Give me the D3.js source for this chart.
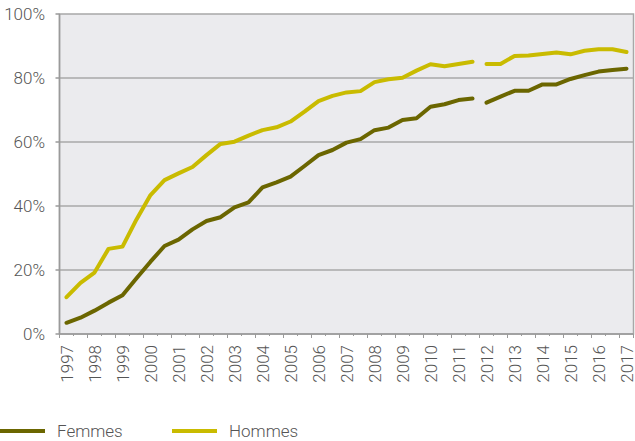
<!DOCTYPE html>
<html>
<head>
<meta charset="utf-8">
<script src="https://cdn.jsdelivr.net/npm/d3@7"></script>
<style>
  body { margin: 0; background: #fff; }
  svg { display: block; font-family: Roboto, "Noto Sans", sans-serif; font-weight: 300; }
</style>
</head>
<body>
<svg id="chart" width="635" height="441"></svg>
<script>
// semestres (une valeur tous les six mois)
var periodes = [1997, 1997.5, 1998, 1998.5, 1999, 1999.5, 2000, 2000.5, 2001, 2001.5,
    2002, 2002.5, 2003, 2003.5, 2004, 2004.5, 2005, 2005.5, 2006, 2006.5,
    2007, 2007.5, 2008, 2008.5, 2009, 2009.5, 2010, 2010.5, 2011, 2011.5,
    2012, 2012.5, 2013, 2013.5, 2014, 2014.5, 2015, 2015.5, 2016, 2016.5, 2017];
var annees = ['1997','1998','1999','2000','2001','2002','2003','2004','2005','2006','2007',
    '2008','2009','2010','2011','2012','2013','2014','2015','2016','2017'];
var femmes = [3.5, 5.1, 7.3, 9.8, 12.1, 17.4, 22.6, 27.5, 29.5, 32.7,
    35.3, 36.5, 39.6, 41.1, 45.8, 47.4, 49.2, 52.5, 55.9, 57.5,
    59.8, 60.9, 63.7, 64.5, 66.9, 67.4, 71.0, 71.8, 73.1, 73.6,
    72.3, 74.2, 76.0, 76.0, 78.0, 78.0, 79.7, 80.9, 82.0, 82.5, 82.9];
var hommes = [11.5, 16.0, 19.2, 26.6, 27.3, 35.8, 43.4, 48.1, 50.2, 52.2,
    55.9, 59.4, 60.1, 62.0, 63.7, 64.6, 66.4, 69.5, 72.8, 74.4,
    75.5, 75.9, 78.7, 79.6, 80.1, 82.3, 84.3, 83.7, 84.4, 85.1,
    84.4, 84.4, 86.9, 87.0, 87.5, 88.0, 87.4, 88.5, 89.0, 89.0, 88.1];
// rupture de série entre 2011 S2 et 2012 S1
var rupture = 2012;
var yTicks = [0, 20, 40, 60, 80, 100];

var series = [
    {name: 'Femmes', values: femmes, color: '#6b6600'},
    {name: 'Hommes', values: hommes, color: '#c9bb00'}
];

var svg = d3.select('#chart');
var plotL = 59.5, plotR = 633.5, plotT = 14, plotB = 334;

var x = d3.scaleBand().domain(periodes).range([plotL, plotR]);
var y = d3.scaleLinear().domain([0, 100]).range([plotB, plotT]);

// fond de la zone de tracé
svg.append('rect')
    .attr('x', plotL).attr('y', plotT)
    .attr('width', plotR - plotL).attr('height', plotB - plotT)
    .attr('fill', '#ebebee')
    .attr('stroke', '#a8a8a8').attr('stroke-width', 1.5);

// quadrillage
svg.append('g')
    .selectAll('line')
    .data(yTicks.slice(1, -1))
    .enter().append('line')
    .attr('x1', plotL).attr('x2', plotR)
    .attr('y1', function (d) { return y(d); })
    .attr('y2', function (d) { return y(d); })
    .attr('stroke', '#a8a8a8').attr('stroke-width', 1.5);

// axe y
svg.append('line')
    .attr('x1', plotL).attr('x2', plotL).attr('y1', plotT).attr('y2', plotB)
    .attr('stroke', '#9a9a9a').attr('stroke-width', 1.5);
svg.append('g')
    .selectAll('line')
    .data(yTicks)
    .enter().append('line')
    .attr('x1', plotL - 4).attr('x2', plotL)
    .attr('y1', function (d) { return y(d); })
    .attr('y2', function (d) { return y(d); })
    .attr('stroke', '#9a9a9a').attr('stroke-width', 1.5);
svg.append('g')
    .selectAll('text')
    .data(yTicks)
    .enter().append('text')
    .attr('x', 45)
    .attr('y', function (d) { return y(d); })
    .attr('dy', '0.36em')
    .attr('text-anchor', 'end')
    .attr('font-size', 17)
    .attr('fill', '#555')
    .text(function (d) { return d + '%'; });

// axe x
svg.append('line')
    .attr('x1', plotL).attr('x2', plotR).attr('y1', plotB).attr('y2', plotB)
    .attr('stroke', '#9a9a9a').attr('stroke-width', 1.5);
var bords = periodes.map(function (p, i) { return {pos: x(p), major: i % 2 === 0}; });
bords.push({pos: plotR, major: true});
svg.append('g')
    .selectAll('line')
    .data(bords)
    .enter().append('line')
    .attr('x1', function (d) { return d.pos; })
    .attr('x2', function (d) { return d.pos; })
    .attr('y1', plotB)
    .attr('y2', function (d) { return plotB + (d.major ? 4 : 2); })
    .attr('stroke', '#9a9a9a').attr('stroke-width', 1);
svg.append('g')
    .selectAll('text')
    .data(annees)
    .enter().append('text')
    .attr('transform', function (d) {
        return 'translate(' + (x(+d) + x.bandwidth() / 2) + ',345) rotate(-90)';
    })
    .attr('dy', '0.36em')
    .attr('text-anchor', 'end')
    .attr('font-size', 17)
    .attr('fill', '#555')
    .text(function (d) { return d; });

// courbes
var line = d3.line()
    .x(function (d) { return x(d.p) + x.bandwidth() / 2; })
    .y(function (d) { return y(d.v); });

series.forEach(function (s) {
    var pts = periodes.map(function (p, i) { return {p: p, v: s.values[i]}; });
    var segments = [
        pts.filter(function (d) { return d.p < rupture; }),
        pts.filter(function (d) { return d.p >= rupture; })
    ];
    svg.append('g')
        .selectAll('path')
        .data(segments)
        .enter().append('path')
        .attr('d', line)
        .attr('fill', 'none')
        .attr('stroke', s.color)
        .attr('stroke-width', 4)
        .attr('stroke-linejoin', 'round')
        .attr('stroke-linecap', 'round');
});

// légende
var legend = svg.append('g')
    .selectAll('g')
    .data(series)
    .enter().append('g')
    .attr('transform', function (d, i) { return 'translate(' + (i * 172) + ',431)'; });
legend.append('line')
    .attr('x1', 0).attr('x2', 45)
    .attr('stroke', function (d) { return d.color; })
    .attr('stroke-width', 4);
legend.append('text')
    .attr('x', 57)
    .attr('dy', '0.36em')
    .attr('font-size', 17)
    .attr('fill', '#555')
    .text(function (d) { return d.name; });
</script>
</body>
</html>
